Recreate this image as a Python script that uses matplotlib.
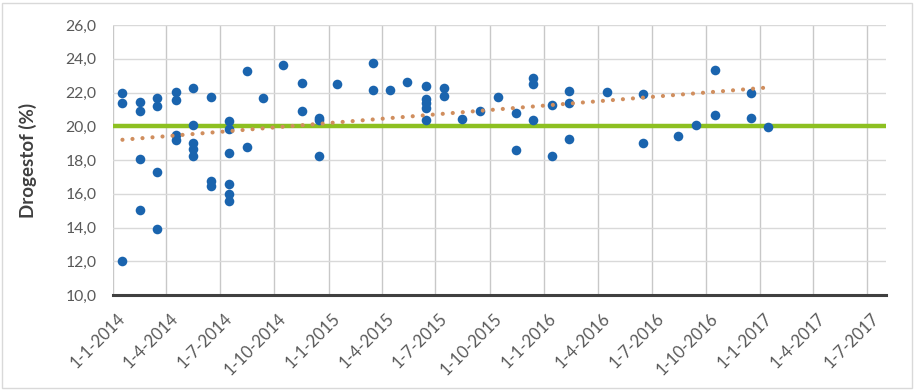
import numpy as np
import pandas as pd
import matplotlib
matplotlib.use("Agg")
import matplotlib.pyplot as plt
import matplotlib.dates as mdates
from matplotlib.patches import Rectangle
from matplotlib.transforms import ScaledTranslation, blended_transform_factory

# Sample dates and dry matter values (%)
dates = [
    "2014-01-17", "2014-01-17", "2014-01-17",
    "2014-02-15", "2014-02-15", "2014-02-15", "2014-02-15",
    "2014-03-17", "2014-03-17", "2014-03-17", "2014-03-17",
    "2014-04-17", "2014-04-17", "2014-04-17", "2014-04-17",
    "2014-05-16", "2014-05-16", "2014-05-16", "2014-05-16", "2014-05-16",
    "2014-06-16", "2014-06-16", "2014-06-16",
    "2014-07-17", "2014-07-17", "2014-07-17", "2014-07-17", "2014-07-17", "2014-07-17",
    "2014-08-16", "2014-08-16",
    "2014-09-12",
    "2014-10-16",
    "2014-11-17", "2014-11-17",
    "2014-12-16", "2014-12-16", "2014-12-16",
    "2015-01-16",
    "2015-03-18", "2015-03-18",
    "2015-04-15",
    "2015-05-14",
    "2015-06-15", "2015-06-15", "2015-06-15", "2015-06-15", "2015-06-15",
    "2015-07-15", "2015-07-15",
    "2015-08-15",
    "2015-09-14",
    "2015-10-15",
    "2015-11-14", "2015-11-14",
    "2015-12-13", "2015-12-13", "2015-12-13",
    "2016-01-15", "2016-01-15",
    "2016-02-13", "2016-02-13", "2016-02-13",
    "2016-04-16",
    "2016-06-16", "2016-06-16",
    "2016-08-15",
    "2016-09-14",
    "2016-10-16", "2016-10-16",
    "2016-12-16", "2016-12-16",
    "2017-01-15",
]
drogestof = [
    22.0, 21.35, 12.0,
    21.45, 20.9, 18.05, 15.05,
    21.65, 21.2, 17.3, 13.9,
    22.05, 21.55, 19.5, 19.2,
    22.25, 20.05, 19.0, 18.65, 18.25,
    21.75, 16.75, 16.45,
    20.3, 19.85, 18.4, 16.6, 16.0, 15.55,
    23.3, 18.8,
    21.65,
    23.65,
    22.55, 20.9,
    20.5, 20.35, 18.25,
    22.5,
    23.75, 22.15,
    22.15,
    22.6,
    22.4, 21.6, 21.35, 21.1, 20.35,
    22.25, 21.8,
    20.45,
    20.9,
    21.75,
    20.8, 18.6,
    22.85, 22.5, 20.35,
    21.25, 18.25,
    22.1, 21.35, 19.25,
    22.05,
    21.9, 19.0,
    19.45,
    20.1,
    23.35, 20.65,
    22.0, 20.5,
    19.95,
]
norm = 20.0

# Excel linear trendline, start/end values
trend_dates = ["2014-01-17", "2017-01-15"]
trend_values = [19.2, 22.3]

tick_dates = pd.date_range("2014-01-01", "2017-07-01", freq="QS")
tick_labels = [f"{d.day}-{d.month}-{d.year}" for d in tick_dates]

x = mdates.date2num(pd.to_datetime(dates))
y = np.array(drogestof)
tx = mdates.date2num(pd.to_datetime(trend_dates))
ticks = mdates.date2num(tick_dates)

plt.rcParams["font.family"] = ["Lato", "DejaVu Sans"]

fig = plt.figure(figsize=(9.16, 3.91), dpi=100)
ax = fig.add_axes([113 / 916, 1 - 295 / 391, 773 / 916, 270 / 391])

xmin = mdates.date2num(pd.Timestamp("2014-01-01"))
xmax = mdates.date2num(pd.Timestamp("2017-08-02"))

ax.axhline(norm, color="#8DC021", lw=3.2, zorder=2)
ax.scatter(x, y, s=48, color="#1A64AE", zorder=3, linewidths=0)
ax.plot(tx, trend_values, color="#D08E5E", lw=3.0, linestyle=(0, (0.01, 2.4)),
        dash_capstyle="round", zorder=4)

ax.set_xlim(xmin, xmax)
ax.set_ylim(10, 26)
ax.set_yticks(np.arange(10, 27, 2))
ax.set_yticklabels([f"{v:.1f}".replace(".", ",") for v in np.arange(10, 27, 2)])
ax.set_xticks(ticks)
ax.set_xticklabels([])

# rotated date labels, placed by hand so they sit like Excel's
trans = blended_transform_factory(ax.transData, ax.transAxes) + \
    ScaledTranslation(9.5 / 100, -21 / 100, fig.dpi_scale_trans)
for t, lab in zip(ticks, tick_labels):
    ax.text(t, 0, lab, transform=trans, rotation=45, ha="right", va="center",
            rotation_mode="anchor", fontsize=12, color="#595959", clip_on=False)

ax.tick_params(axis="both", length=0, labelsize=11.3, colors="#595959")
ax.tick_params(axis="y", pad=12)

ax.grid(axis="y", color="#D9D9D9", lw=1.0)
ax.grid(axis="x", color="#C8C8C8", lw=1.0)
ax.set_axisbelow(True)
for side in ["top", "right", "left"]:
    ax.spines[side].set_visible(False)
ax.spines["bottom"].set_color("#404040")
ax.spines["bottom"].set_linewidth(2.2)
ax.spines["bottom"].set_zorder(5)

ax.set_ylabel("Drogestof (%)", fontsize=13.5, fontweight="bold", color="#404040")
ax.yaxis.set_label_coords(-(113 - 37) / 773, 0.5)

# light chart border
fig.patches.append(Rectangle((2 / 916, 3 / 391), 910 / 916, 385 / 391,
                             transform=fig.transFigure, fill=False,
                             edgecolor="#D9D9D9", lw=1.0))

fig.savefig("out.png", dpi=100)
